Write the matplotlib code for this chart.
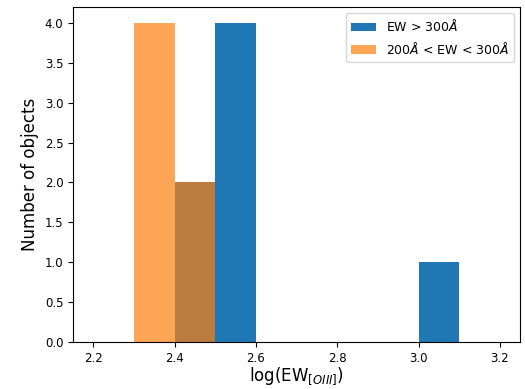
import matplotlib
matplotlib.use("Agg")
import matplotlib.pyplot as plt
import numpy as np

# histogram bins in log(EW)
bin_edges = [2.2, 2.3, 2.4, 2.5, 2.6, 2.7, 2.8, 2.9, 3.0, 3.1, 3.2]
# counts per bin
strong_counts = [0, 0, 2, 4, 0, 0, 0, 0, 1, 0]   # EW > 300A
mid_counts = [0, 4, 2, 0, 0, 0, 0, 0, 0, 0]      # 200A < EW < 300A

centers = (np.array(bin_edges[:-1]) + np.array(bin_edges[1:])) / 2

fig, ax = plt.subplots(figsize=(5.25, 3.89), dpi=100)
fig.subplots_adjust(left=0.139, right=0.991, top=0.982, bottom=0.121)

ax.hist(centers, bins=bin_edges, weights=strong_counts, color="C0",
        label=r"EW > 300$\AA$")
ax.hist(centers, bins=bin_edges, weights=mid_counts, color="C1", alpha=0.7,
        label=r"200$\AA$ < EW < 300$\AA$")

ax.set_xlim(2.15, 3.25)
ax.set_ylim(0, 4.2)
ax.set_yticks(np.arange(0, 4.01, 0.5))
ax.tick_params(labelsize=8.5)
ax.set_xlabel(r"log(EW$_{[OIII]}$)", fontsize=12, labelpad=0)
ax.set_ylabel("Number of objects", fontsize=12)
ax.legend(fontsize=9)

fig.savefig("out.png", dpi=100)
